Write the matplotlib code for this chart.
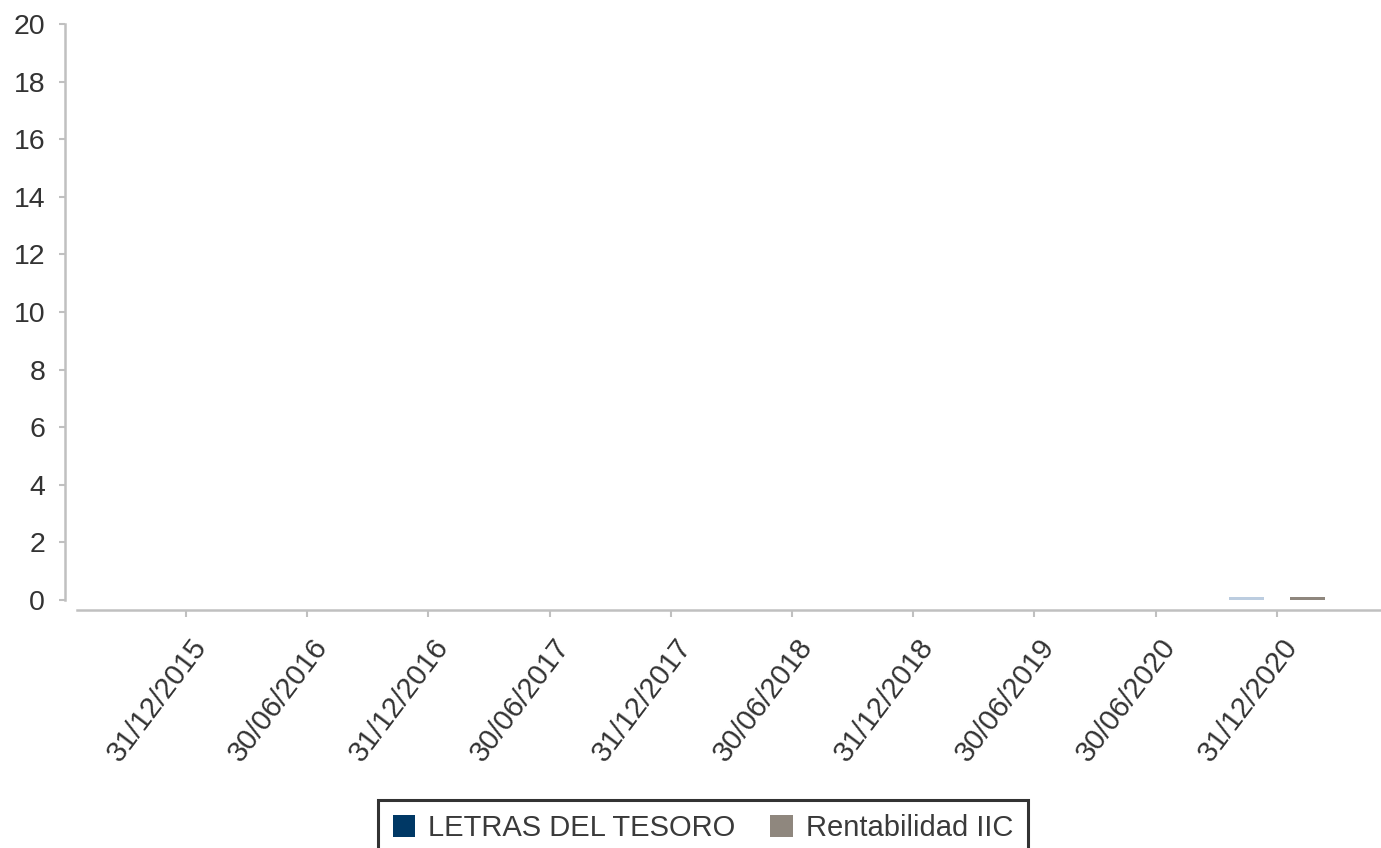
import matplotlib
matplotlib.use("Agg")
import matplotlib.pyplot as plt
from matplotlib.patches import Patch
from matplotlib.transforms import ScaledTranslation
import numpy as np

FECHAS = ["31/12/2015", "30/06/2016", "31/12/2016", "30/06/2017", "31/12/2017",
          "30/06/2018", "31/12/2018", "30/06/2019", "30/06/2020", "31/12/2020"]
LETRAS = [np.nan] * 9 + [0.1]
RENTABILIDAD = [np.nan] * 9 + [0.1]
SERIES = ["LETRAS DEL TESORO", "Rentabilidad IIC"]
Y_TICKS = list(range(0, 21, 2))

NAVY = "#003865"
NAVY_BAR = "#bccde0"
GREY = "#8f877e"
AXIS = "#c0c0c0"
TEXT = "#333333"

plt.rcParams["font.family"] = ["Liberation Sans", "DejaVu Sans"]

W, H = 1381, 848
fig = plt.figure(figsize=(W / 100, H / 100), dpi=100)
ax = fig.add_axes([77 / W, 1 - 600 / H, 1 - 77 / W, (600 - 24) / H])

x = np.arange(len(FECHAS))
ax.bar(x - 0.25, LETRAS, width=0.29, color=NAVY_BAR)
ax.bar(x + 0.25, RENTABILIDAD, width=0.29, color=GREY)

ax.set_xlim(-0.9, 9.86)
ax.set_ylim(0, 20)
ax.set_yticks(Y_TICKS)
ax.set_xticks(x)
ax.set_xticklabels(FECHAS)

for s in ["top", "right"]:
    ax.spines[s].set_visible(False)
ax.spines["left"].set_position(("outward", 8.6))
ax.spines["bottom"].set_position(("outward", 7.2))
for s in ["left", "bottom"]:
    ax.spines[s].set_color(AXIS)
    ax.spines[s].set_linewidth(1.8)

ax.tick_params(axis="y", colors=AXIS, labelcolor=TEXT, labelsize=20.5,
               length=4.3, width=1.5, pad=10)
ax.tick_params(axis="x", colors=AXIS, labelcolor=TEXT, labelsize=21,
               length=5, width=1.5, pad=18)
off = ScaledTranslation(0.15, 0, fig.dpi_scale_trans)
for lbl in ax.get_xticklabels():
    lbl.set_rotation(53)
    lbl.set_rotation_mode("anchor")
    lbl.set_ha("right")
    lbl.set_va("center")
    lbl.set_transform(lbl.get_transform() + off)

handles = [Patch(facecolor=NAVY), Patch(facecolor=GREY)]
leg = fig.legend(handles, SERIES, loc="upper left", ncol=2,
                 bbox_to_anchor=(378 / W, 1 - 808 / H, 650 / W, 0.01),
                 mode="expand", borderaxespad=0, frameon=True, fancybox=False,
                 fontsize=21, handlelength=0.78, handleheight=0.78,
                 handletextpad=0.45, columnspacing=0.6, borderpad=0.5,
                 labelcolor="#3a3a3a")
leg.get_frame().set_edgecolor("black")
leg.get_frame().set_linewidth(2.2)

fig.savefig("out.png", dpi=100)
